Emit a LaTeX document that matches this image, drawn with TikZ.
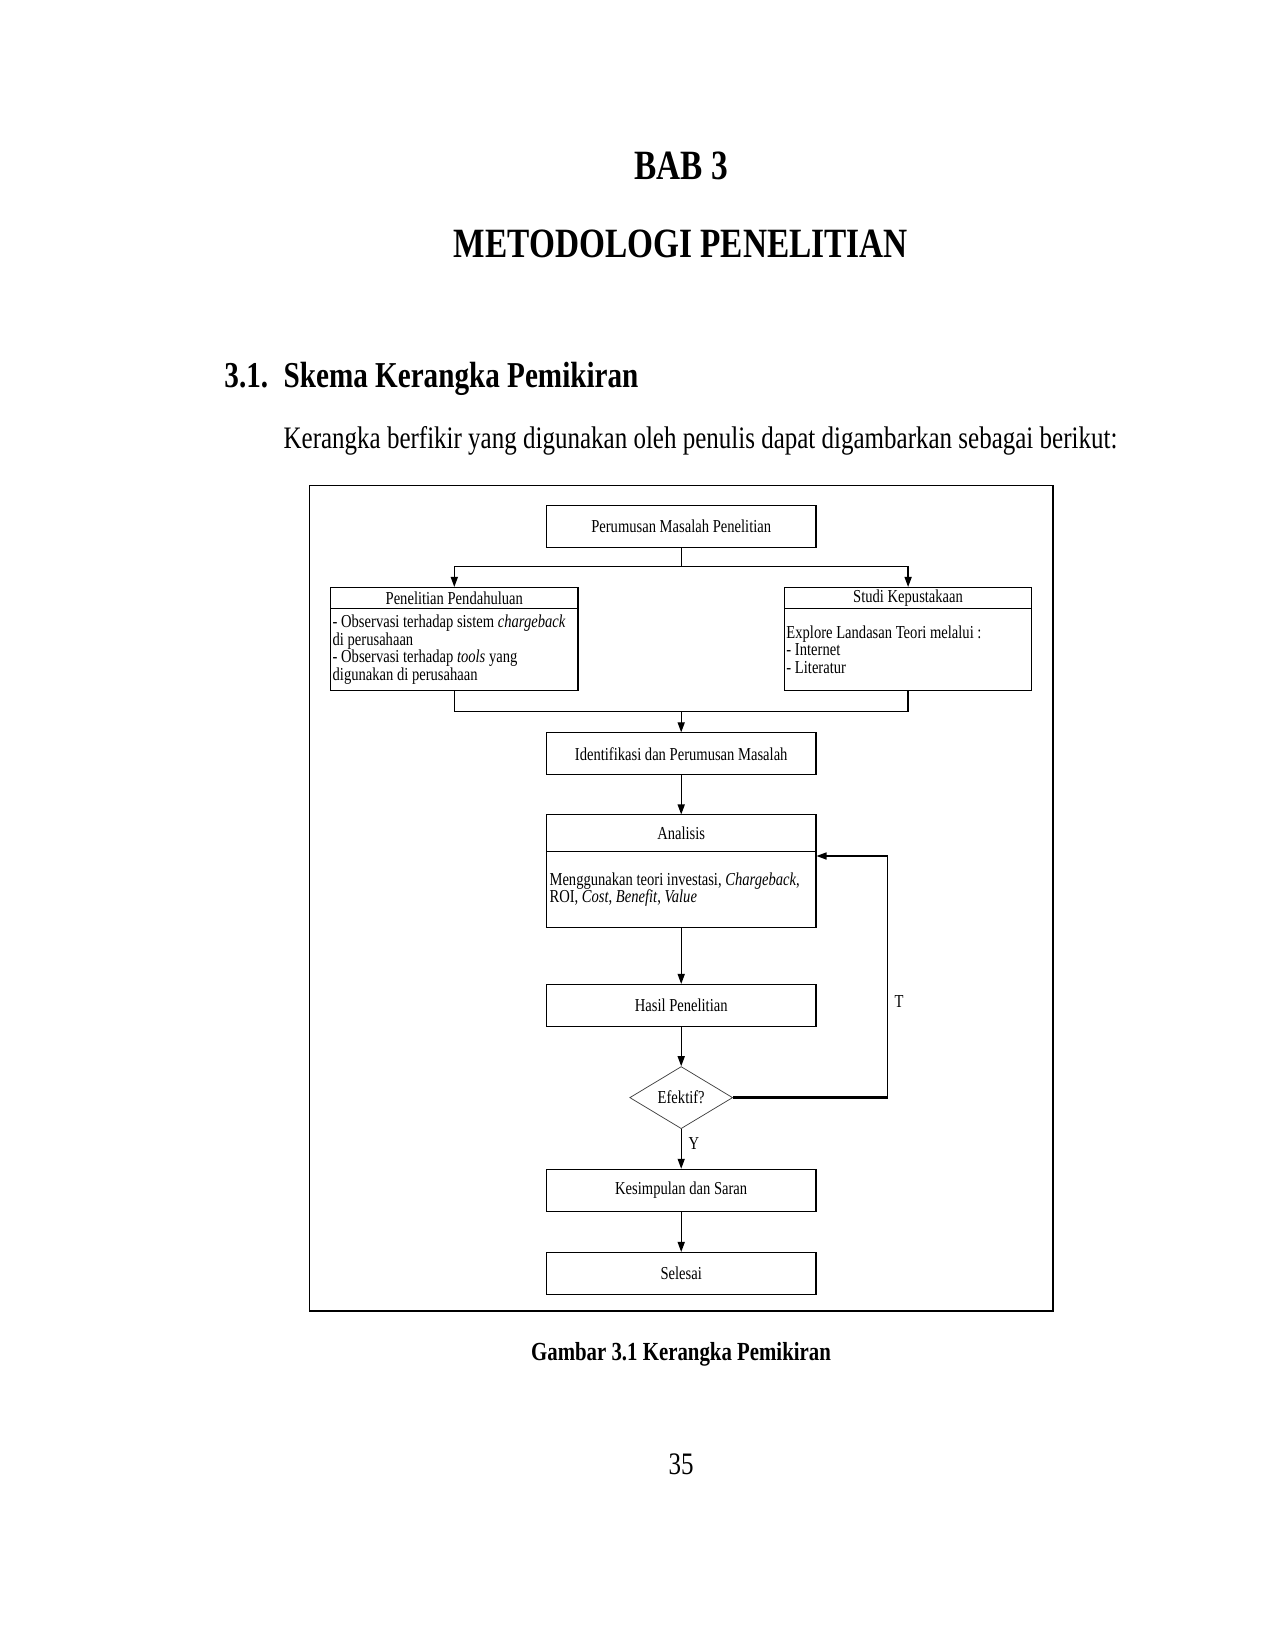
\documentclass[tikz,border=0pt]{standalone}
\usepackage{fontspec}
\setmainfont{Liberation Serif}[FakeStretch=0.8]
\usetikzlibrary{arrows.meta,shapes.geometric}
\newcommand\diagfont{\fontsize{8.75}{8.5}\selectfont}
\tikzset{
  box/.style={draw, line width=0.5pt, inner sep=0pt, minimum width=129.4pt, minimum height=20.2pt, font=\diagfont, align=center},
  sidehead/.style={box, minimum width=118.75pt, minimum height=10.1pt},
  sidebody/.style={box, minimum width=118.75pt, minimum height=39.5pt, text width=116.75pt, inner xsep=1pt, align=flush left},
  anhead/.style={box, minimum height=17.7pt},
  anbody/.style={box, minimum height=36.4pt, text width=126.4pt, inner xsep=1.5pt, align=flush left},
  dia/.style={diamond, draw=black!75, line width=0.35pt, inner sep=0pt, minimum width=49.4pt, minimum height=29.8pt, font=\diagfont},
  conn/.style={line width=0.6pt, -{Triangle[length=4.8pt,width=3.4pt]}},
  plain/.style={line width=0.6pt},
  lbl/.style={inner sep=0pt, font=\diagfont},
  txt/.style={inner sep=0pt}
}
\begin{document}
\begin{tikzpicture}[x=0.48pt, y=-0.48pt]
\useasboundingbox (0,0) rectangle (1275,1651);
\fill[white] (0,0) rectangle (1275,1651);

% page texts
\node[txt, font=\fontsize{20}{24}\selectfont\bfseries] (bab) at (681,166.3) {BAB 3};
\node[txt, font=\fontsize{20}{24}\selectfont\bfseries] (met) at (681,244.3) {METODOLOGI PENELITIAN};
\node[txt, anchor=base west, font=\fontsize{17.5}{21}\selectfont\bfseries] (num) at (224,387) {3.1.};
\node[txt, anchor=base west, font=\fontsize{17.5}{21}\selectfont\bfseries] (sec) at (283.2,387) {Skema Kerangka Pemikiran};
\node[txt, anchor=west, font=\fontsize{15}{18}\selectfont] (para) at (283.2,441) {Kerangka berfikir yang digunakan oleh penulis dapat digambarkan sebagai berikut:};
\node[txt, font=\fontsize{12.5}{15}\selectfont\bfseries] (cap) at (681,1354) {Gambar 3.1 Kerangka Pemikiran};
\node[txt, font=\fontsize{15}{18}\selectfont] (pg) at (681,1464.5) {35};

% frame
\draw[line width=0.7pt] (309.5,485.4) rectangle (1052.8,1310.8);

% nodes
\node[box] (pm) at (681.2,526.5) {Perumusan Masalah Penelitian};
\node[sidehead] (pph) at (454.3,598) {Penelitian Pendahuluan};
\node[sidebody] (ppb) at (454.3,649.6) {- Observasi terhadap sistem \textit{chargeback}\\di perusahaan\\- Observasi terhadap \textit{tools} yang\\digunakan di perusahaan};
\node[sidehead] (skh) at (908.1,598) {Studi Kepustakaan};
\node[sidebody] (skb) at (908.1,649.6) {Explore Landasan Teori melalui :\\- Internet\\- Literatur};
\node[box] (idf) at (681.2,753.9) {Identifikasi dan Perumusan Masalah};
\node[anhead] (anh) at (681.2,833.4) {Analisis};
\node[anbody] (anb) at (681.2,889.7) {Menggunakan teori investasi, \textit{Chargeback},\\ROI, \textit{Cost}, \textit{Benefit}, \textit{Value}};
\node[box] (has) at (681.2,1005.5) {Hasil Penelitian};
\node[dia] (ef) at (681.2,1097.6) {Efektif?};
\node[box] (kes) at (681.2,1190.3) {Kesimpulan dan Saran};
\node[box] (sel) at (681.2,1273.5) {Selesai};

% connectors
\coordinate (sp) at (681.2,566.4);
\draw[plain] (pm.south) -- (sp);
\draw[conn] (sp) -| (pph.north);
\draw[conn] (sp) -| (skh.north);
\coordinate (mg) at (681.2,711.7);
\draw[plain] (ppb.south) |- (mg);
\draw[plain] (skb.south) |- (mg);
\draw[conn] (mg) -- (idf.north);
\draw[conn] (idf.south) -- (anh.north);
\draw[conn] (anb.south) -- (has.north);
\draw[conn] (has.south) -- (ef.north);
\draw[conn] (ef.south) -- (kes.north);
\draw[conn] (kes.south) -- (sel.north);
\coordinate (lb) at (887.5,1097.6);
\coordinate (lt) at (887.5,856);
\draw[line width=1.2pt] (ef.east) -- (lb);
\draw[conn] (lb) -- (lt) -- (anb.east |- lt);
\node[lbl] (tl) at (899,1001.3) {T};
\node[lbl] (yl) at (693.8,1143.4) {Y};
\end{tikzpicture}
\end{document}
